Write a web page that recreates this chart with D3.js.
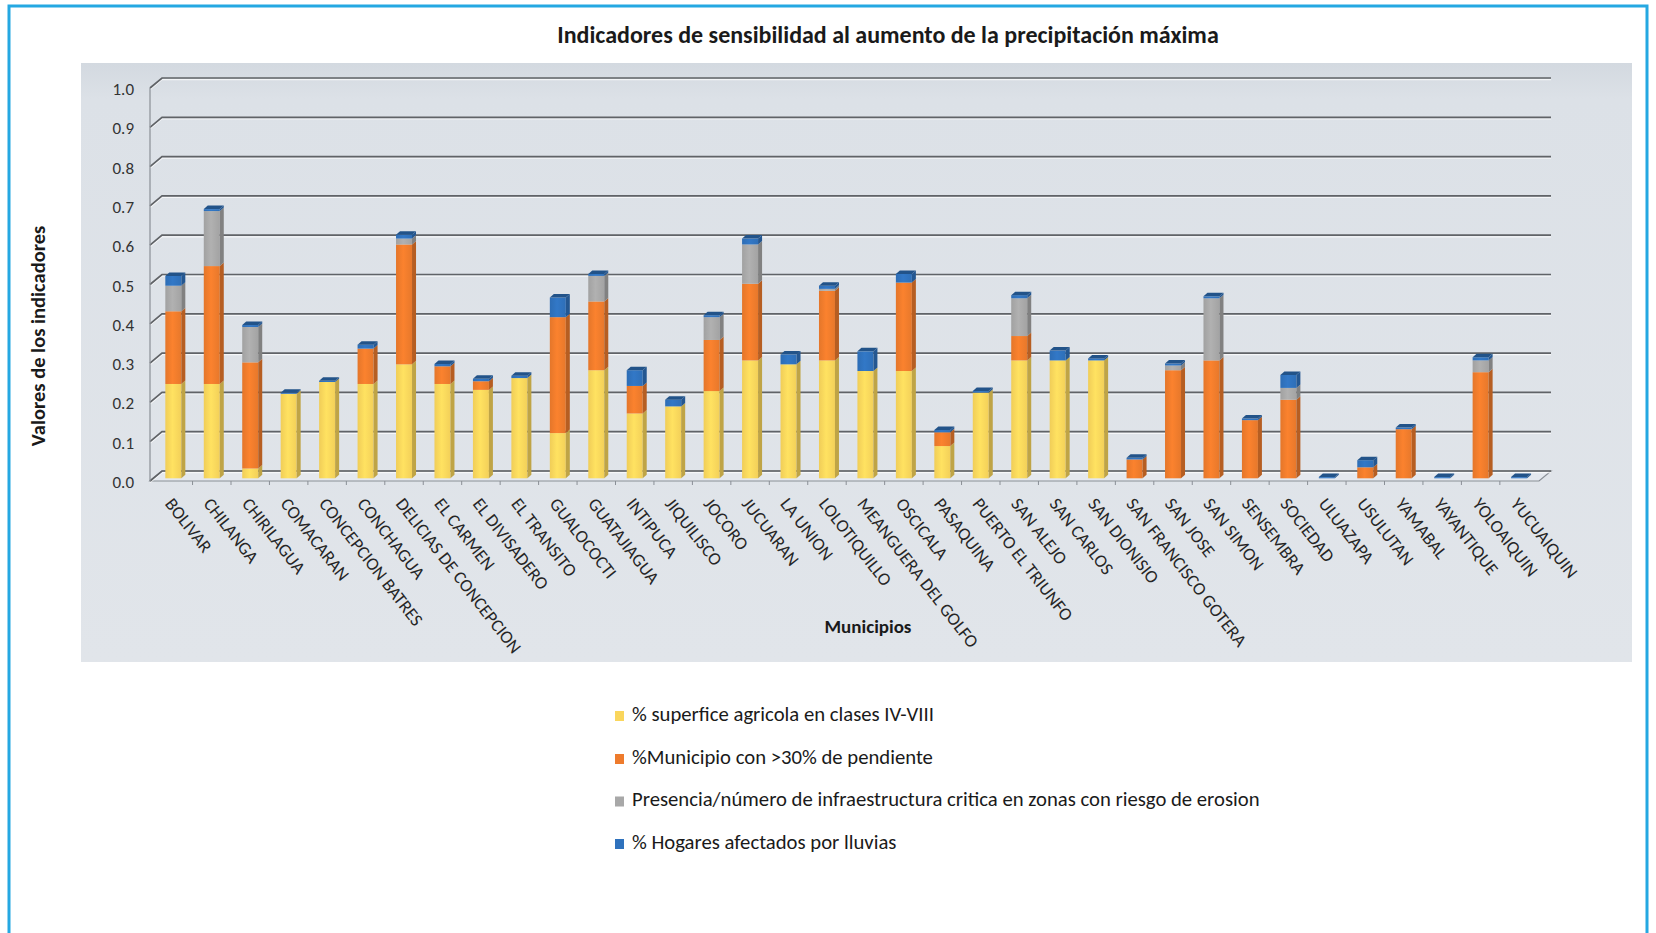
<!DOCTYPE html>
<html>
<head>
<meta charset="utf-8">
<script src="https://cdn.jsdelivr.net/npm/d3@7"></script>
<style>
  body { margin: 0; background: #ffffff; }
  svg { display: block; }
  text { font-family: Carlito, Lato, "Open Sans", sans-serif; }
</style>
</head>
<body>
<svg id="chart" width="1656" height="933"></svg>
<script>
// Municipalities on the category axis
const municipios = [
  "BOLIVAR", "CHILANGA", "CHIRILAGUA", "COMACARAN", "CONCEPCION BATRES", "CONCHAGUA",
  "DELICIAS DE CONCEPCION", "EL CARMEN", "EL DIVISADERO", "EL TRANSITO", "GUALOCOCTI",
  "GUATAJIAGUA", "INTIPUCA", "JIQUILISCO", "JOCORO", "JUCUARAN", "LA UNION", "LOLOTIQUILLO",
  "MEANGUERA DEL GOLFO", "OSCICALA", "PASAQUINA", "PUERTO EL TRIUNFO", "SAN ALEJO",
  "SAN CARLOS", "SAN DIONISIO", "SAN FRANCISCO GOTERA", "SAN JOSE", "SAN SIMON",
  "SENSEMBRA", "SOCIEDAD", "ULUAZAPA", "USULUTAN", "YAMABAL", "YAYANTIQUE",
  "YOLOAIQUIN", "YUCUAIQUIN"
];

// % superficie agricola en clases IV-VIII
const superficieAgricola = [
  0.24, 0.24, 0.025, 0.215, 0.245, 0.24, 0.29, 0.24, 0.225, 0.255, 0.115,
  0.275, 0.165, 0.183, 0.222, 0.30, 0.29, 0.30, 0.273, 0.273, 0.082, 0.218, 0.30,
  0.30, 0.30, 0, 0, 0, 0, 0, 0, 0, 0, 0, 0, 0
];

// % municipio con >30% de pendiente
const pendiente = [
  0.185, 0.30, 0.27, 0, 0, 0.09, 0.305, 0.045, 0.022, 0, 0.295,
  0.175, 0.07, 0, 0.13, 0.195, 0, 0.177, 0, 0.225, 0.035, 0, 0.062,
  0, 0, 0.048, 0.275, 0.30, 0.148, 0.20, 0, 0.028, 0.125, 0, 0.27, 0
];

// Presencia/numero de infraestructura critica en zonas con riesgo de erosion
const infraestructura = [
  0.065, 0.14, 0.09, 0, 0, 0, 0.015, 0, 0, 0, 0,
  0.065, 0, 0, 0.058, 0.10, 0, 0.005, 0, 0, 0, 0, 0.096,
  0, 0, 0, 0.012, 0.158, 0, 0.03, 0, 0, 0, 0, 0.03, 0
];

// % hogares afectados por lluvias
const hogares = [
  0.025, 0.005, 0.005, 0.003, 0.003, 0.01, 0.01, 0.006, 0.006, 0.006, 0.05,
  0.005, 0.04, 0.017, 0.005, 0.015, 0.025, 0.008, 0.05, 0.022, 0.006, 0.004, 0.008,
  0.025, 0.005, 0.004, 0.005, 0.005, 0.004, 0.033, 0.003, 0.018, 0.004, 0.003, 0.008, 0.003
];

const seriesKeys = ["agricola", "pendiente", "infra", "hogares"];
const seriesLabels = [
  "% superfice agricola en clases IV-VIII",
  "%Municipio con >30% de pendiente",
  "Presencia/número de infraestructura critica en zonas con riesgo de erosion",
  "% Hogares afectados por lluvias"
];
const seriesColors = ["#fad65c", "#ee7b2c", "#a8a8a8", "#2f72bd"];

const yTicks = [0, 0.1, 0.2, 0.3, 0.4, 0.5, 0.6, 0.7, 0.8, 0.9, 1.0];

const chartTitle = "Indicadores de sensibilidad al aumento de la precipitación máxima";
const yTitle = "Valores de los indicadores";
const xTitle = "Municipios";

// ---- table for the stack layout
const rows = municipios.map((m, i) => ({
  name: m,
  agricola: superficieAgricola[i],
  pendiente: pendiente[i],
  infra: infraestructura[i],
  hogares: hogares[i]
}));
const stacked = d3.stack().keys(seriesKeys)(rows);

const svg = d3.select("#chart");
const defs = svg.append("defs");

// ---- geometry of the 3-D box
const wallDX = 12, wallDY = 10;      // depth of walls / floor
const barDX = 4, barDY = 3.5;        // depth of each column
const barW = 16;

const x = d3.scaleBand().domain(municipios).range([154.1, 1538.3]).paddingInner(0).paddingOuter(0);
const yBack = d3.scaleLinear().domain([0, 1]).range([471, 78]);
const yBar = d3.scaleLinear().domain([0, 1]).range([478.3, 85.3]);

const wallLeft = 150 + wallDX;           // back-left corner
const wallRight = 1551;                  // back-right corner

// ---- outer frame
const frameColor = "#25a8e2";
svg.append("path")
  .attr("d", `M9,933 V6 H1647 V933`)
  .attr("fill", "none")
  .attr("stroke", frameColor)
  .attr("stroke-width", 3);

// ---- chart panel
const panelGrad = defs.append("linearGradient").attr("id", "panelGrad")
  .attr("x1", 0).attr("y1", 0).attr("x2", 0).attr("y2", 1);
panelGrad.append("stop").attr("offset", 0).attr("stop-color", "#d3d9e0");
panelGrad.append("stop").attr("offset", 0.06).attr("stop-color", "#dce1e7");
panelGrad.append("stop").attr("offset", 1).attr("stop-color", "#e1e5ea");

svg.append("rect")
  .attr("x", 81).attr("y", 63).attr("width", 1551).attr("height", 599)
  .attr("fill", "url(#panelGrad)");

// ---- title
svg.append("text")
  .attr("x", 888).attr("y", 37)
  .attr("text-anchor", "middle").attr("dominant-baseline", "middle")
  .attr("font-size", 24).attr("font-weight", 700).attr("fill", "#1a1a1a")
  .text(chartTitle);

// ---- floor
svg.append("path")
  .attr("d", `M150,${yBack(0) + wallDY} L${wallLeft},${yBack(0)} H${wallRight} L${wallRight - wallDX},${yBack(0) + wallDY} Z`)
  .attr("fill", "#e4e8ee")
  .attr("stroke", "#8a8f96").attr("stroke-width", 1.2);

// ---- gridlines on the back wall, bent round the side wall
const grid = svg.append("g");
yTicks.forEach(t => {
  const yb = yBack(t);
  grid.append("path")
    .attr("d", `M150,${yb + wallDY} L${wallLeft},${yb} H${wallRight}`)
    .attr("fill", "none")
    .attr("stroke", "#ffffff").attr("stroke-opacity", 0.7).attr("stroke-width", 1.2)
    .attr("transform", "translate(0,1.6)");
  grid.append("path")
    .attr("d", `M150,${yb + wallDY} L${wallLeft},${yb} H${wallRight}`)
    .attr("fill", "none")
    .attr("stroke", "#606367").attr("stroke-width", 1.7);
});
// side-wall front edge
grid.append("line")
  .attr("x1", 150).attr("x2", 150)
  .attr("y1", yBack(1) + wallDY).attr("y2", yBack(0) + wallDY)
  .attr("stroke", "#8a8f96").attr("stroke-width", 1.2);

// ---- category tick marks on the front edge
svg.append("g").selectAll("line")
  .data(municipios.slice(1))
  .join("line")
  .attr("x1", d => x(d)).attr("x2", d => x(d))
  .attr("y1", yBack(0) + wallDY).attr("y2", yBack(0) + wallDY + 4)
  .attr("stroke", "#8a8f96").attr("stroke-width", 1);

// ---- y-axis tick labels
svg.append("g").selectAll("text")
  .data(yTicks)
  .join("text")
  .attr("x", 134)
  .attr("y", d => yBack(d) + wallDY + 3)
  .attr("text-anchor", "end").attr("dominant-baseline", "middle")
  .attr("font-size", 17).attr("fill", "#333333")
  .text(d => d3.format(".1f")(d));

// ---- gradients for column faces
seriesColors.forEach((c, k) => {
  const base = d3.color(c);
  const g = defs.append("linearGradient").attr("id", `front${k}`)
    .attr("x1", 0).attr("y1", 0).attr("x2", 1).attr("y2", 0);
  g.append("stop").attr("offset", 0).attr("stop-color", base.darker(0.12));
  g.append("stop").attr("offset", 0.45).attr("stop-color", base.brighter(0.15));
  g.append("stop").attr("offset", 1).attr("stop-color", base.darker(0.08));
});
const sideColor = k => d3.color(seriesColors[k]).darker(0.75);
const topColor = k => d3.color(seriesColors[k]).darker(0.9);

// ---- columns
const bars = svg.append("g");
municipios.forEach((m, i) => {
  const cx = x(m) + x.bandwidth() / 2;
  const x0 = cx - barW / 2, x1 = cx + barW / 2;
  let topK = 0, topV = 0;
  stacked.forEach((s, k) => {
    const [v0, v1] = s[i];
    if (v1 - v0 <= 0) return;
    const yT = yBar(v1), yB = yBar(v0);
    bars.append("rect")
      .attr("x", x0).attr("y", yT)
      .attr("width", barW).attr("height", yB - yT)
      .attr("fill", `url(#front${k})`);
    bars.append("path")
      .attr("d", `M${x1},${yT} L${x1 + barDX},${yT - barDY} L${x1 + barDX},${yB - barDY} L${x1},${yB} Z`)
      .attr("fill", sideColor(k));
    topK = k; topV = v1;
  });
  const yT = yBar(topV);
  bars.append("path")
    .attr("d", `M${x0},${yT} L${x0 + barDX},${yT - barDY} L${x1 + barDX},${yT - barDY} L${x1},${yT} Z`)
    .attr("fill", topColor(topK));
});

// ---- category labels
svg.append("g").selectAll("text")
  .data(municipios)
  .join("text")
  .attr("transform", d => `translate(${x(d) + x.bandwidth() / 2 - 9},504) rotate(52)`)
  .attr("font-size", 18).attr("fill", "#262626")
  .text(d => d);

// ---- axis titles
svg.append("text")
  .attr("transform", "translate(40,336) rotate(-90)")
  .attr("text-anchor", "middle").attr("dominant-baseline", "middle")
  .attr("font-size", 20.5).attr("font-weight", 700).attr("fill", "#1a1a1a")
  .text(yTitle);

svg.append("text")
  .attr("x", 868).attr("y", 628)
  .attr("text-anchor", "middle").attr("dominant-baseline", "middle")
  .attr("font-size", 19).attr("font-weight", 700).attr("fill", "#1a1a1a")
  .text(xTitle);

// ---- legend
const legend = svg.append("g");
const legendY = [716, 759, 801.5, 844];
seriesLabels.forEach((lab, k) => {
  legend.append("rect")
    .attr("x", 615).attr("y", legendY[k] - 5)
    .attr("width", 9).attr("height", 10)
    .attr("fill", seriesColors[k]);
  legend.append("text")
    .attr("x", 632).attr("y", legendY[k])
    .attr("dominant-baseline", "middle")
    .attr("font-size", 20.7).attr("fill", "#1a1a1a")
    .text(lab);
});
</script>
</body>
</html>
